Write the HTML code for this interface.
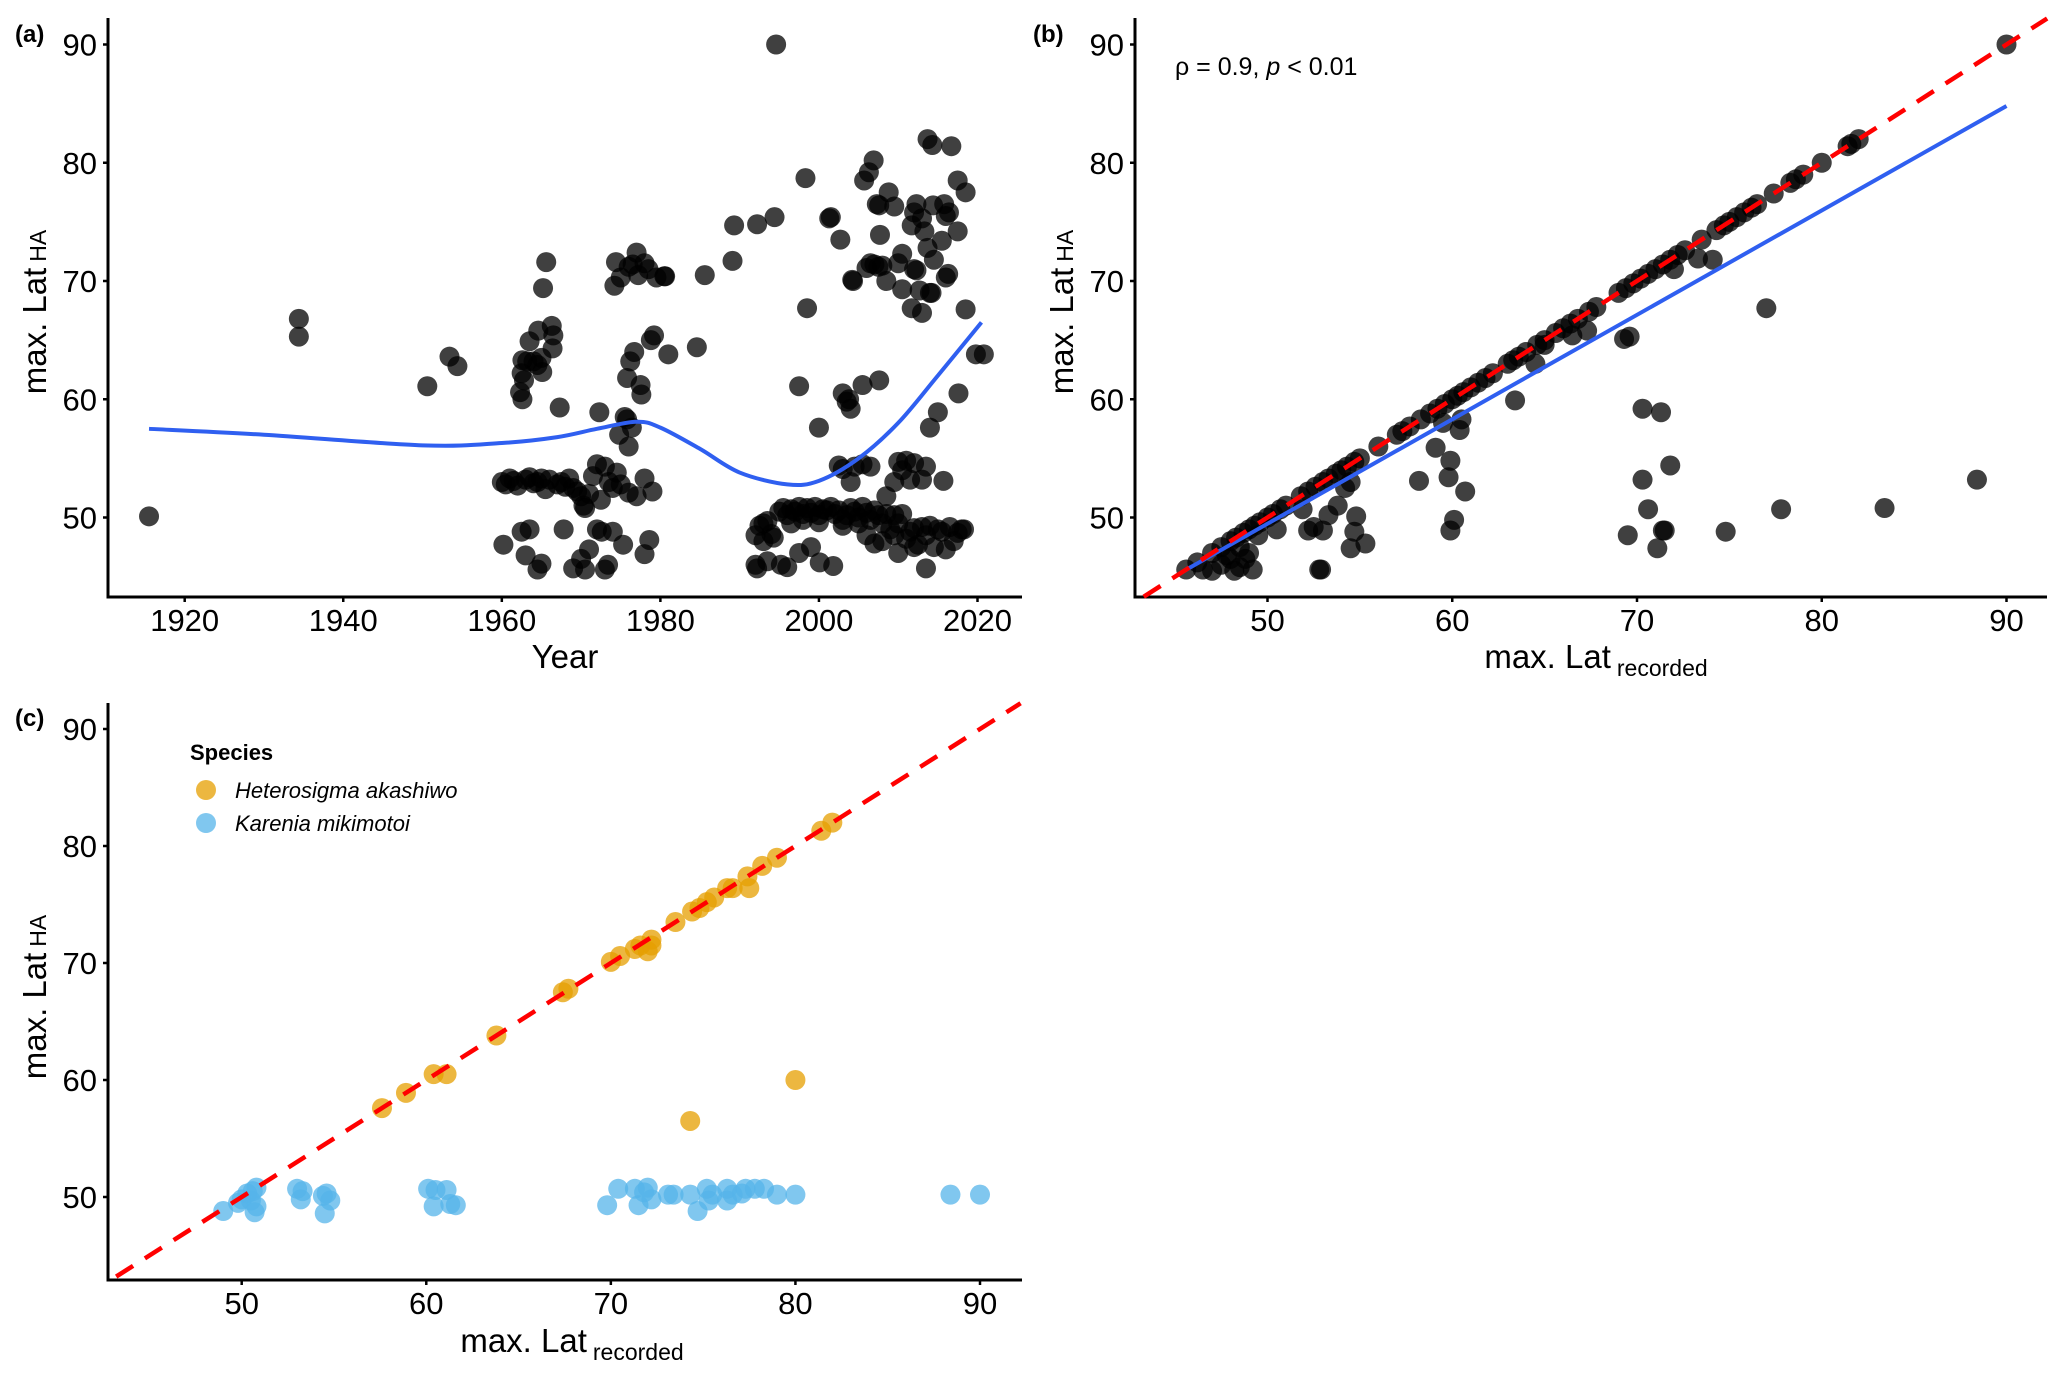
<!DOCTYPE html>
<html><head><meta charset="utf-8"><style>
html,body{margin:0;padding:0;background:#fff;}
svg{display:block;font-family:"Liberation Sans",sans-serif;}
</style></head><body>
<svg id="fig" width="2067" height="1377" viewBox="0 0 2067 1377" xmlns="http://www.w3.org/2000/svg">
<g id="root"></g>
</svg>
<script>
// Panel (a) data
const aYears=[1915.5,1934.4,1934.4,1950.6,1953.4,1954.4,
1960,1960.5,1961,1961.5,1962,1963,1963.5,1964,1964.5,1965,1965.5,1966,1967,1967.5,1968,1968.5,1969,1969.5,1970,1970.3,1970.5,1971,1971.5,1972,1972.5,1973,1973.5,1974,1974.5,1975,1976,1977,1978,1979,
1960.2,1962.5,1963.5,1963,1964.5,1965,1967.8,1969,1970,1970.5,1971,1972,1972.6,1973,1973.4,1974,1975.3,1978,1978.6,
1962.3,1962.6,1962.8,1962.5,1962.6,1963.2,1964,1964.5,1965,1965.1,1963.5,1964.6,1966.3,1966.4,1966.5,1965.2,1965.6,1967.3,
1972.3,1974.2,1974.4,1975,1976,1976.5,1977,1977.2,1978,1978.5,1979.5,1980.5,1980.6,1974.8,1975.5,1975.8,1976,1976.4,1975.8,1976.2,1976.7,1977.5,1977.6,1978.8,1979.2,1981,1984.6,1985.6,
1989.1,1989.3,1992.2,1994.4,1994.6,
1992,1992.5,1993,1993.5,1994,1995,1995.5,1996,1996.5,1997,1997.5,1998,1998.5,1999,1999.5,2000,2000.5,2001,2001.5,2002,2002.5,2003,2003.5,2004,2004.5,2005,2005.5,2006,2006.5,2007,2007.5,2008,2008.5,2009,2009.5,2010,2010.5,2011,2011.5,2012,2012.5,2013,2013.5,2014,2014.5,2015,2015.5,2016,2016.5,2017,2017.5,2018,2018.3,1996.5,1998,2000,2003,2005,2006,2007,2008,2010,2012,2013.5,
1992,1992.2,1993.5,1995.2,1996,1997.5,1999,2000.1,2001.8,1994.3,1993,
2000,1997.5,2002.5,2003,2004.5,2005.5,2006.5,2004,2003.5,2003,2003.8,2004,2005.5,2007.6,2008.5,2009.5,2009.5,2010,2010.5,2011,2011.5,2012,2013.5,2013,2015.7,2015,2014,2017.6,2019.8,2020.8,
1998.3,1998.5,2001.5,2001.3,2002.7,2004.2,2004.3,2005.7,2006.3,2006.9,2006,2006.5,2007,2007.5,2008,2008.5,2007.7,2007.3,2007.6,2008.8,2009.5,2010.5,2010,2010.5,2011.7,2012,2012.3,2011.7,2012,2012.3,2013,2013.3,2012.7,2013,2013.7,2014.4,2014,2014.2,2014.5,2013.7,2014.3,2016.7,2015.5,2015.8,2016,2016.4,2016,2016.3,2017.5,2017.5,2018.5,2018.5];
const aLats=[50.1,66.8,65.3,61.1,63.6,62.8,
53.0,52.8,53.3,53.1,52.7,53.2,53.4,52.9,53.0,53.3,52.4,53.2,52.8,53.0,52.6,53.3,52.5,52.2,51.8,51.0,50.8,52.0,53.5,54.5,51.5,54.3,53.0,52.5,53.8,52.8,52.1,51.8,53.3,52.2,
47.7,48.8,49.0,46.8,45.6,46.1,49.0,45.7,46.5,45.6,47.3,49.0,48.8,45.6,46.0,48.8,47.7,46.9,48.1,
60.6,60.0,61.6,62.2,63.3,63.2,63.2,62.9,63.5,62.3,64.9,65.8,66.2,64.3,65.4,69.4,71.6,59.3,
58.9,69.6,71.6,70.3,71.2,71.4,72.4,70.5,71.5,71.0,70.3,70.4,70.4,57.0,58.5,58.3,56.0,57.6,61.8,63.2,64.0,61.2,60.4,65.0,65.4,63.8,64.4,70.5,
71.7,74.7,74.8,75.4,90.0,
48.5,49.3,48.0,49.7,48.6,50.5,50.8,50.2,50.7,50.5,50.9,50.3,50.8,50.4,50.9,50.2,50.7,50.6,50.9,50.3,50.6,49.8,50.2,50.8,50.5,50.0,50.9,50.4,49.8,50.6,50.2,49.5,50.3,49.0,48.5,49.5,50.3,48.2,48.8,49.1,47.7,49.2,48.5,49.3,47.5,49.0,48.8,47.3,49.2,48.0,48.7,49.0,49.0,49.5,49.8,49.6,49.3,49.5,48.5,47.8,48.0,47.0,47.5,45.7,
46.0,45.7,46.3,46.0,45.8,47.0,47.5,46.2,45.9,48.3,49.5,
57.6,61.1,54.4,54.1,54.3,54.5,54.3,53.0,59.8,60.5,60.0,59.2,61.2,61.6,51.8,50.2,53.0,54.7,54.0,54.8,53.2,54.6,54.3,53.2,53.1,58.9,57.6,60.5,63.8,63.8,
78.7,67.7,75.4,75.3,73.5,70.1,70.0,78.5,79.2,80.2,71.1,71.5,71.4,71.2,71.3,70.0,73.9,76.5,76.4,77.5,76.3,72.3,71.5,69.3,67.7,71.0,70.9,74.7,75.8,76.5,75.3,74.2,69.2,67.3,72.8,76.4,69.0,69.0,71.8,82.0,81.5,81.4,73.4,76.5,75.5,75.8,70.3,70.6,74.2,78.5,77.5,67.6];
const loessYears=[1915.5,1930,1950,1960,1967,1972,1977,1980,1985,1990,1996,2000,2005,2010,2015,2020.5];
const loessLats=[57.5,57.0,56.1,56.3,56.8,57.5,58.1,57.6,55.8,53.8,52.8,53.1,55.0,58.0,62.0,66.5];
const aXTicks=[1920,1940,1960,1980,2000,2020];
const latTicks=[50,60,70,80,90];

// Panel (b) data
const bRecorded=[45.6,46.2,47,47.5,48,48.3,48.7,49,49.3,49.6,50,50.3,50.7,51,51.8,52.2,52.6,53,53.3,53.7,54,54.3,54.7,55,56,57,57.3,57.7,58.3,58.8,59.2,59.6,60,60.3,60.6,61,61.4,61.8,62.2,63,63.3,63.6,64,64.6,65,65.6,66,66.4,66.8,67.4,67.8,69,69.4,69.8,70.2,70.6,71,71.4,71.8,72.2,72.6,73.5,74.3,74.7,75,75.4,75.8,76.2,76.5,77.4,78.3,78.6,79,80,81.4,81.6,82,90,
46.5,47,47.5,48,48.5,48.8,49,48.5,47.8,49.2,48.2,49.5,50.5,51.9,52.2,52.5,53,52.8,52.9,53.3,53.8,54.2,54.5,54.5,54.7,54.8,55.3,58.2,59.1,59.8,59.9,59.9,60.1,60.7,60.4,60.5,59.5,63.4,64.5,65,66.5,67.3,69.3,69.6,70.3,71.3,70.3,71.8,70.6,71.4,71.5,69.5,71.1,73.3,74.1,74.8,77,77.8,83.4,88.4,72];
const bHA=[45.6,46.2,47,47.5,48,48.3,48.7,49,49.3,49.6,50,50.3,50.7,51,51.8,52.2,52.6,53,53.3,53.7,54,54.3,54.7,55,56,57,57.3,57.7,58.3,58.8,59.2,59.6,60,60.3,60.6,61,61.4,61.8,62.2,63,63.3,63.6,64,64.6,65,65.6,66,66.4,66.8,67.4,67.8,69,69.4,69.8,70.2,70.6,71,71.4,71.8,72.2,72.6,73.5,74.3,74.7,75,75.4,75.8,76.2,76.5,77.4,78.3,78.6,79,80,81.4,81.6,82,90,
45.6,45.5,46,46.5,45.8,46.5,47,47.5,46.8,45.6,45.5,48.5,49,50.7,48.9,49.2,48.9,45.6,45.6,50.2,51,52.5,53,47.4,48.8,50.1,47.8,53.1,55.9,53.4,54.8,48.9,49.8,52.2,57.4,58.3,58,59.9,63,64.6,65.4,65.8,65.1,65.3,59.2,58.9,53.2,54.4,50.7,48.9,48.9,48.5,47.4,71.9,71.8,48.8,67.7,50.7,50.8,53.2,71];
const fitX=[45.5,90];
const fitY=[45.5,84.8];
const bXTicks=[50,60,70,80,90];

// Panel (c) data
const hetRecorded=[57.6,58.9,60.4,61.1,63.8,67.4,67.7,70,70.5,71.3,71.6,72,72.2,72.2,73.5,74.4,74.8,75.2,75.6,76.3,76.6,77.4,77.5,78.2,79,81.4,82,74.3,80];
const hetHA=[57.6,58.9,60.5,60.5,63.8,67.5,67.8,70.1,70.6,71.2,71.5,71.0,72,71.5,73.5,74.4,74.7,75.2,75.6,76.4,76.4,77.4,76.4,78.3,79,81.3,82,56.5,60];
const karRecorded=[49,49.8,50,50.3,50.5,50.8,50.8,50.7,50.6,53,53.2,53.3,54.4,54.5,54.8,54.6,60.1,60.5,60.4,61.1,61.3,61.6,69.8,70.4,71.3,71.5,71.8,72,72.2,73.1,73.4,74.3,74.7,75.2,75.3,75.5,76.3,76.3,76.6,77.1,77.3,77.8,78.3,79,80,88.4,90];
const karHA=[48.8,49.5,49.8,50.3,49.7,50.8,49.2,48.7,50.5,50.7,49.8,50.5,50.1,48.6,49.7,50.3,50.7,50.6,49.2,50.6,49.4,49.3,49.3,50.7,50.7,49.3,50.4,50.8,49.8,50.2,50.2,50.2,48.8,50.7,49.7,50.2,50.7,49.7,50.2,50.3,50.7,50.7,50.7,50.2,50.2,50.2,50.2];

const NS='http://www.w3.org/2000/svg';
const root=document.getElementById('root');
function mk(tag,attrs,parent){const e=document.createElementNS(NS,tag);for(const k in attrs)e.setAttribute(k,attrs[k]);(parent||root).appendChild(e);return e;}
function lin(d0,d1,r0,r1){return v=>r0+(v-d0)*(r1-r0)/(d1-d0);}

function makePanel(p){
  const g=mk('g',{});
  
  
  const ax=mk('g',{},g);
  
  
  const yl=mk('line',{x1:p.left,y1:p.top,x2:p.left,y2:p.bottom,stroke:'#000','stroke-width':3},ax);
  
  
  const xl=mk('line',{x1:p.left-1.5,y1:p.bottom,x2:p.right,y2:p.bottom,stroke:'#000','stroke-width':3},ax);
  
  
  p.yTicks.forEach(t=>{
    const y=p.sy(t);
    const tk=mk('line',{x1:p.left-5,y1:y,x2:p.left,y2:y,stroke:'#000','stroke-width':2.5},ax);
    
    
    const tx=mk('text',{x:p.left-11,y:y+11,'text-anchor':'end','font-size':31,fill:'#000'},ax);
    tx.textContent=t;
    
    
  });
  p.xTicks.forEach(t=>{
    const x=p.sx(t);
    const tk=mk('line',{x1:x,y1:p.bottom,x2:x,y2:p.bottom+5,stroke:'#000','stroke-width':2.5},ax);
    
    
    const tx=mk('text',{x:x,y:p.bottom+34,'text-anchor':'middle','font-size':31,fill:'#000'},ax);
    tx.textContent=t;
    
    
  });
  return g;
}
function yTitle(g,x,y){
  const t=mk('text',{x:0,y:0,transform:`translate(${x},${y}) rotate(-90)`,'text-anchor':'middle','font-size':33,fill:'#000'},g);
  
  
  t.innerHTML='max. Lat<tspan font-size="23" dx="6" dy="-0">HA</tspan>';
}
function xTitleRec(g,x,y){
  const t=mk('text',{x:x,y:y,'text-anchor':'middle','font-size':33,fill:'#000'},g);
  
  
  t.innerHTML='max. Lat<tspan font-size="23" dx="6" dy="8">recorded</tspan>';
}
function panelLabel(txt,x,y){
  const t=mk('text',{x:x,y:y,'font-size':24,'font-weight':'bold',fill:'#000'});
  t.textContent=txt;
  
  
}
function dots(g,xs,ys,sx,sy,color,op,name){
  const dg=mk('g',{},g);
  
  
  for(let i=0;i<xs.length;i++){
    const c=mk('circle',{cx:sx(xs[i]),cy:sy(ys[i]),r:10,fill:color,'fill-opacity':op},dg);
    
    
  }
}
function smoothPath(xs,ys,sx,sy){
  const P=xs.map((v,i)=>[sx(v),sy(ys[i])]);
  let d='M'+P[0][0]+','+P[0][1];
  for(let i=0;i<P.length-1;i++){
    const p0=P[Math.max(0,i-1)],p1=P[i],p2=P[i+1],p3=P[Math.min(P.length-1,i+2)];
    const c1=[p1[0]+(p2[0]-p0[0])/6,p1[1]+(p2[1]-p0[1])/6];
    const c2=[p2[0]-(p3[0]-p1[0])/6,p2[1]-(p3[1]-p1[1])/6];
    d+=` C${c1[0]},${c1[1]} ${c2[0]},${c2[1]} ${p2[0]},${p2[1]}`;
  }
  return d;
}

// Panel A
{
  const sx=lin(1920,2020,184.7,977.5), sy=lin(50,90,517.5,44.5);
  const p={name:'panel-a',left:108,right:1022,top:18,bottom:597,sx,sy,xTicks:aXTicks,yTicks:latTicks};
  const g=makePanel(p);
  dots(g,aYears,aLats,sx,sy,'#000',0.75,'points-a');
  const l=mk('path',{d:smoothPath(loessYears,loessLats,sx,sy),fill:'none',stroke:'#2f5ff0','stroke-width':4},g);
  
  
  yTitle(g,46,312);
  const t=mk('text',{x:565,y:668,'text-anchor':'middle','font-size':33,fill:'#000'},g);
  t.textContent='Year';
  
  
  panelLabel('(a)',15,42);
}
// Panel B
{
  const sx=lin(50,90,1267.5,2006.5), sy=lin(50,90,517.5,44.5);
  const p={name:'panel-b',left:1135,right:2047,top:18,bottom:597,sx,sy,xTicks:bXTicks,yTicks:latTicks};
  const g=makePanel(p);
  dots(g,bRecorded,bHA,sx,sy,'#000',0.75,'points-b');
  const fl=mk('line',{x1:sx(fitX[0]),y1:sy(fitY[0]),x2:sx(fitX[1]),y2:sy(fitY[1]),stroke:'#2f5ff0','stroke-width':4},g);
  
  
  const lo=43.3,hi=92.2;
  const rl=mk('line',{x1:sx(lo),y1:sy(lo),x2:sx(hi),y2:sy(hi),stroke:'#ff0000','stroke-width':4.5,'stroke-dasharray':'20 14'},g);
  
  
  yTitle(g,1073,312);
  xTitleRec(g,1596,668);
  const tx=mk('text',{x:1175,y:75,'font-size':25,fill:'#000'},g);
  tx.innerHTML='ρ = 0.9, <tspan font-style="italic">p</tspan> &lt; 0.01';
  
  
  panelLabel('(b)',1033,42);
}
// Panel C
{
  const sx=lin(50,90,241.7,980), sy=lin(50,90,1197,729);
  const p={name:'panel-c',left:108,right:1022,top:703,bottom:1280,sx,sy,xTicks:bXTicks,yTicks:latTicks};
  const g=makePanel(p);
  dots(g,hetRecorded,hetHA,sx,sy,'#E69F00',0.75,'points-heterosigma');
  dots(g,karRecorded,karHA,sx,sy,'#56B4E9',0.75,'points-karenia');
  const lo=43.2,hi=92.2;
  const rl=mk('line',{x1:sx(lo),y1:sy(lo),x2:sx(hi),y2:sy(hi),stroke:'#ff0000','stroke-width':4.5,'stroke-dasharray':'20 14'},g);
  
  
  yTitle(g,46,997);
  xTitleRec(g,572,1352);
  const lg=mk('g',{},g);
  
  
  const lt=mk('text',{x:190,y:760,'font-size':22,'font-weight':'bold',fill:'#000'},lg);
  lt.textContent='Species';
  
  
  const e1=mk('circle',{cx:206,cy:790,r:10,fill:'#E69F00','fill-opacity':0.75},lg);
  
  
  const t1=mk('text',{x:235,y:798,'font-size':22,'font-style':'italic',fill:'#000'},lg);
  t1.textContent='Heterosigma akashiwo';
  
  
  const e2=mk('circle',{cx:206,cy:823,r:10,fill:'#56B4E9','fill-opacity':0.75},lg);
  
  
  const t2=mk('text',{x:235,y:831,'font-size':22,'font-style':'italic',fill:'#000'},lg);
  t2.textContent='Karenia mikimotoi';
  
  
  panelLabel('(c)',15,726);
}
</script>
</body></html>
